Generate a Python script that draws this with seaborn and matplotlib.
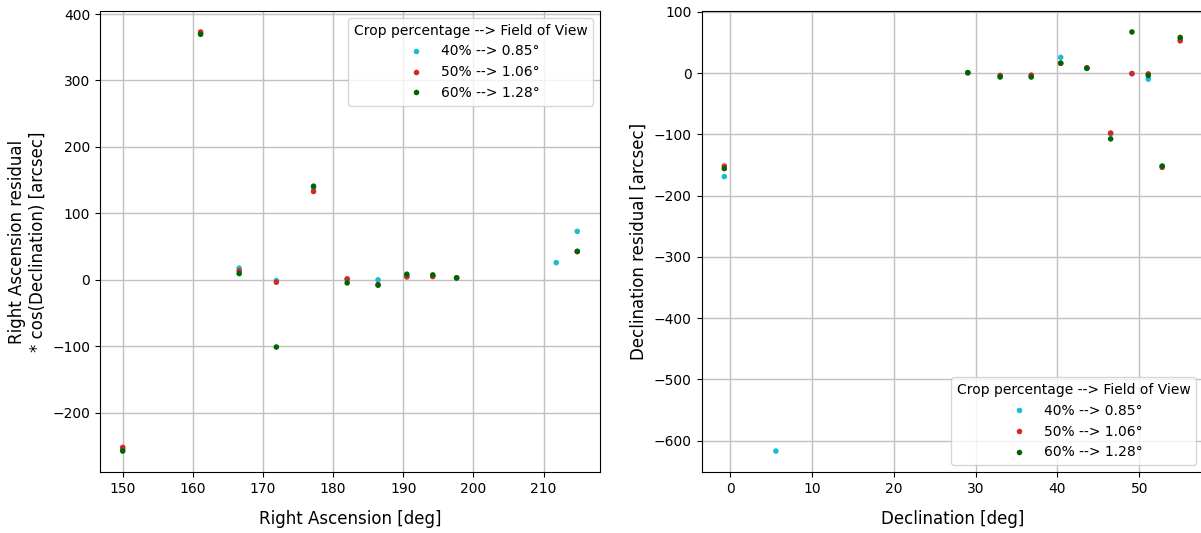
import numpy as np
import pandas as pd
import matplotlib
matplotlib.use("Agg")
import matplotlib.pyplot as plt
import seaborn as sns

# Star positions (deg)
ra = [150.0, 161.1, 166.6, 171.9, 177.2, 182.0, 186.4, 190.5, 194.2, 197.6, 211.8, 214.8]
dec = [-0.7, 52.8, 40.4, 49.1, 46.5, 29.05, 33.0, 36.8, 43.6, 51.1, 5.6, 55.0]

# RA residual * cos(Dec) [arcsec] per crop percentage
ra_res_40 = [-255, 371, 17.6, -1.0, 138, 1.0, 0.0, 6.0, 6.0, 3.0, 26, 73]
ra_res_50 = [-252, 373, 13.5, -3.5, 133, 1.5, -7.0, 4.5, 5.0, 3.0, np.nan, 42.5]
ra_res_60 = [-257.5, 369.5, 9.5, -101, 141, -4.5, -8.0, 8.5, 7.5, 3.0, np.nan, 43]

# Declination residual [arcsec] per crop percentage
dec_res_40 = [-169, -152, 25.5, -1.0, -99, 0.5, -5.0, -5.0, 8.0, -10, -617, 55]
dec_res_50 = [-152, -154, 16, -1.0, -98, 0.5, -4.0, -3.5, 8.5, -1.5, np.nan, 52.5]
dec_res_60 = [-156, -152, 16, 67, -107.5, 0.5, -6.5, -6.5, 7.6, -4.0, np.nan, 58]

labels = ["40% --> 0.85°", "50% --> 1.06°", "60% --> 1.28°"]
colors = ["#17becf", "#d62728", "#006400"]
legend_title = "Crop percentage --> Field of View"

frames = []
for lab, rr, dr in zip(labels, [ra_res_40, ra_res_50, ra_res_60],
                       [dec_res_40, dec_res_50, dec_res_60]):
    frames.append(pd.DataFrame({"ra": ra, "dec": dec, "ra_res": rr,
                                "dec_res": dr, "crop": lab}))
df = pd.concat(frames, ignore_index=True)
df_ra = df.dropna(subset=["ra_res"])
df_dec = df.dropna(subset=["dec_res"])

palette = dict(zip(labels, colors))

plt.rcParams["font.family"] = ["DejaVu Sans"]
fig = plt.figure(figsize=(12.01, 5.33), dpi=100)
ax1 = fig.add_axes([100 / 1201, 1 - 472 / 533, 500 / 1201, 461 / 533])
ax2 = fig.add_axes([701.5 / 1201, 1 - 472 / 533, 501.5 / 1201, 461 / 533])

sns.scatterplot(data=df_ra, x="ra", y="ra_res", hue="crop", hue_order=labels,
                palette=palette, s=16, linewidth=0, ax=ax1)
sns.scatterplot(data=df_dec, x="dec", y="dec_res", hue="crop", hue_order=labels,
                palette=palette, s=16, linewidth=0, ax=ax2)

for ax in (ax1, ax2):
    ax.grid(True, color="#c0c0c0", linewidth=1.0)
    ax.set_axisbelow(True)
    ax.tick_params(labelsize=10)

ax1.set_xlabel("Right Ascension [deg]", fontsize=12, labelpad=10)
ax1.set_ylabel("Right Ascension residual\n* cos(Declination) [arcsec]", fontsize=12)
ax2.set_xlabel("Declination [deg]", fontsize=12, labelpad=10)
ax2.set_ylabel("Declination residual [arcsec]", fontsize=12)

sns.move_legend(ax1, "upper right", title=legend_title, fontsize=10, title_fontsize=10)
sns.move_legend(ax2, "lower right", title=legend_title, fontsize=10, title_fontsize=10)

fig.savefig("out.png", dpi=100)
